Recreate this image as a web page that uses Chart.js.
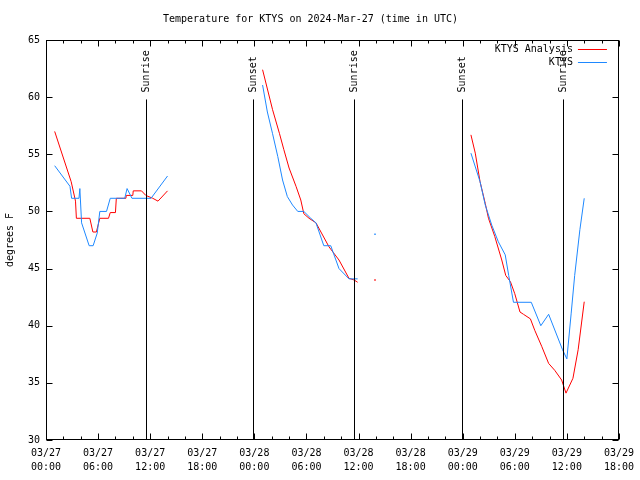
<!DOCTYPE html>
<html>
<head>
<meta charset="utf-8">
<script src="https://cdn.jsdelivr.net/npm/chart.js@4"></script>
<style>
  body { margin: 0; background: #fff; }
  canvas { display: block; }
</style>
</head>
<body>
<canvas id="tempChart" width="640" height="480"></canvas>
<script>
// hours since 03/27 00:00 UTC, null breaks the line
var analysisHours = [1.0, 2.9, 3.4, 3.5, 5.05, 5.4, 5.8, 6.2, 7.2, 7.4, 8.0, 8.1, 9.2, 9.25, 10.0, 10.05, 11.0, 11.5, 12.3, 12.9, 14.0,
    15,
    24.95, 26.1, 26.9, 27.4, 28.0, 28.8, 29.35, 29.7, 30.3, 31.1, 32.6, 33.75, 34.9, 35.5, 35.9,
    36.5, 37.9, 38.5,
    48.95, 49.45, 50.0, 50.6, 50.97, 51.7, 52.5, 52.96, 53.5, 54.0, 54.6, 55.0, 55.8, 56.3, 57.1, 57.9, 58.6, 59.4, 59.9, 60.7, 61.3, 62.0];
var analysisTemps = [57.0, 52.6, 50.9, 49.4, 49.4, 48.2, 48.2, 49.4, 49.4, 49.9, 49.9, 51.15, 51.15, 51.4, 51.4, 51.8, 51.8, 51.4, 51.15, 50.9, 51.8,
    null,
    62.4, 58.9, 56.8, 55.4, 53.8, 52.2, 51.0, 49.8, 49.4, 49.0, 46.9, 45.75, 44.15, 44.0, 43.8,
    null, 44.0, null,
    56.7, 55.1, 52.6, 50.7, 49.4, 47.8, 45.75, 44.4, 43.85, 42.8, 41.2, 41.0, 40.6, 39.6, 38.2, 36.7, 36.1, 35.25, 34.1, 35.4, 37.9, 42.1];

var obsHours = [1.0, 2.76, 2.95, 3.8, 3.9, 4.1, 4.97, 5.43, 5.9, 6.2, 6.97, 7.4, 9.07, 9.34, 9.9, 12.1, 14.0,
    15,
    24.95, 25.5, 26.1, 26.7, 27.25, 27.8, 28.4, 29.0, 29.7, 30.5, 31.1, 32.0, 32.8, 33.75, 34.9, 35.9,
    36.5, 37.9, 38.5,
    48.95, 50.0, 50.6, 51.35, 52.1, 52.9, 53.3, 53.85, 55.9, 57.0, 57.9, 59.5, 60.0, 60.5, 60.9, 61.5, 62.0];
var obsTemps = [54.0, 52.2, 51.15, 51.15, 52.0, 49.0, 47.0, 47.0, 48.1, 50.0, 50.0, 51.15, 51.15, 52.0, 51.15, 51.15, 53.1,
    null,
    61.06, 58.7, 56.8, 54.8, 52.75, 51.3, 50.56, 50.0, 50.0, 49.4, 49.0, 47.0, 47.0, 45.0, 44.1, 44.1,
    null, 48.0, null,
    55.1, 52.6, 50.56, 48.8, 47.35, 46.2, 44.4, 42.05, 42.05, 40.0, 41.0, 37.9, 37.1, 41.1, 44.4, 48.4, 51.15];

var sunHours = [11.48, 23.8, 35.5, 47.9, 59.5];
var sunLabels = ['Sunrise', 'Sunset', 'Sunrise', 'Sunset', 'Sunrise'];
var sunLineTop = 59.8;

var firstDay = 27;
var FONT = '10px "DejaVu Sans Mono", monospace';

function toPoints(hours, temps) {
    return hours.map(function(h, i) { return {x: h, y: temps[i]}; });
}

function pad2(n) { return (n < 10 ? '0' : '') + n; }

// single points between gaps get a tiny dot, otherwise no markers
function loneRadius(ctx) {
    var d = ctx.dataset.data, i = ctx.dataIndex;
    if (d[i].y == null) return 0;
    var prev = d[i - 1], next = d[i + 1];
    return ((!prev || prev.y == null) && (!next || next.y == null)) ? 1 : 0;
}

// frame, inward ticks, sunrise/sunset markers, legend
var gnuplotLook = {
    id: 'gnuplotLook',
    afterDatasetsDraw: function(chart) {
        var ctx = chart.ctx, a = chart.chartArea;
        var xs = chart.scales.x, ys = chart.scales.y;
        ctx.save();
        ctx.strokeStyle = '#000';
        ctx.lineWidth = 1;

        // sun lines
        ctx.font = FONT;
        ctx.fillStyle = '#000';
        sunHours.forEach(function(h, i) {
            var px = Math.round(xs.getPixelForValue(h)) + 0.5;
            var top = ys.getPixelForValue(sunLineTop);
            ctx.beginPath();
            ctx.moveTo(px, top);
            ctx.lineTo(px, a.bottom);
            ctx.stroke();
            ctx.save();
            ctx.translate(px, top - 7);
            ctx.rotate(-Math.PI / 2);
            ctx.textAlign = 'left';
            ctx.textBaseline = 'middle';
            ctx.fillText(sunLabels[i], 0, 0);
            ctx.restore();
        });

        // frame
        var L = Math.round(a.left) + 0.5, R = Math.round(a.right) - 0.5;
        var T = Math.round(a.top) + 0.5, B = Math.round(a.bottom) - 0.5;
        ctx.strokeRect(L, T, R - L, B - T);

        // x ticks every 2h, long every 6h
        ctx.beginPath();
        for (var h = xs.min; h <= xs.max; h += 2) {
            var px = Math.round(xs.getPixelForValue(h)) + 0.5;
            var len = (h % 6 === 0) ? 6 : 3;
            ctx.moveTo(px, B); ctx.lineTo(px, B - len);
            ctx.moveTo(px, T); ctx.lineTo(px, T + len);
        }
        for (var v = ys.min; v <= ys.max; v += 5) {
            var py = Math.round(ys.getPixelForValue(v)) + 0.5;
            ctx.moveTo(L, py); ctx.lineTo(L + 6, py);
            ctx.moveTo(R, py); ctx.lineTo(R - 6, py);
        }
        ctx.stroke();

        // legend, top right inside the plot
        ctx.textAlign = 'right';
        ctx.textBaseline = 'middle';
        chart.data.datasets.forEach(function(ds, i) {
            var y = Math.round(a.top + 9 + i * 13) + 0.5;
            var lineEnd = a.right - 12, lineStart = lineEnd - 29;
            ctx.fillStyle = '#000';
            ctx.fillText(ds.label, lineStart - 5, y);
            ctx.strokeStyle = ds.borderColor;
            ctx.beginPath();
            ctx.moveTo(lineStart, y);
            ctx.lineTo(lineEnd, y);
            ctx.stroke();
        });
        ctx.restore();
    }
};

new Chart(document.getElementById('tempChart'), {
    type: 'line',
    data: {
        datasets: [{
            label: 'KTYS Analysis',
            data: toPoints(analysisHours, analysisTemps),
            borderColor: '#ff0000',
            backgroundColor: '#ff0000',
            borderWidth: 1,
            pointRadius: loneRadius,
            pointStyle: 'rect',
            pointBorderWidth: 0,
            order: 1
        }, {
            label: 'KTYS',
            data: toPoints(obsHours, obsTemps),
            borderColor: '#1e88ff',
            backgroundColor: '#1e88ff',
            borderWidth: 1,
            pointRadius: loneRadius,
            pointStyle: 'rect',
            pointBorderWidth: 0,
            order: 0
        }]
    },
    options: {
        responsive: false,
        animation: false,
        spanGaps: false,
        layout: {padding: {left: 0, right: 19, top: 0, bottom: 0}},
        elements: {line: {tension: 0}},
        plugins: {
            legend: {display: false},
            tooltip: {enabled: false},
            title: {
                display: true,
                text: 'Temperature for KTYS on 2024-Mar-27 (time in UTC)',
                color: '#000',
                font: {family: '"DejaVu Sans Mono", monospace', size: 10, weight: 'normal', lineHeight: 1.2},
                padding: {top: 13, bottom: 15}
            }
        },
        scales: {
            x: {
                type: 'linear',
                min: 0,
                max: 66,
                grid: {display: false, drawTicks: false},
                border: {display: false},
                ticks: {
                    stepSize: 6,
                    autoSkip: false,
                    maxRotation: 0,
                    padding: 6,
                    color: '#000',
                    font: {family: '"DejaVu Sans Mono", monospace', size: 10, lineHeight: 1.4},
                    callback: function(value) {
                        var day = firstDay + Math.floor(value / 24);
                        return ['03/' + pad2(day), pad2(value % 24) + ':00'];
                    }
                },
                afterFit: function(scale) { scale.height = 40; }
            },
            y: {
                min: 30,
                max: 65,
                grid: {display: false, drawTicks: false},
                border: {display: false},
                ticks: {
                    stepSize: 5,
                    padding: 6,
                    color: '#000',
                    font: {family: '"DejaVu Sans Mono", monospace', size: 10}
                },
                title: {
                    display: true,
                    text: 'degrees F',
                    color: '#000',
                    font: {family: '"DejaVu Sans Mono", monospace', size: 10},
                    padding: 4
                },
                afterFit: function(scale) { scale.width = 46; }
            }
        }
    },
    plugins: [gnuplotLook]
});
</script>
</body>
</html>
